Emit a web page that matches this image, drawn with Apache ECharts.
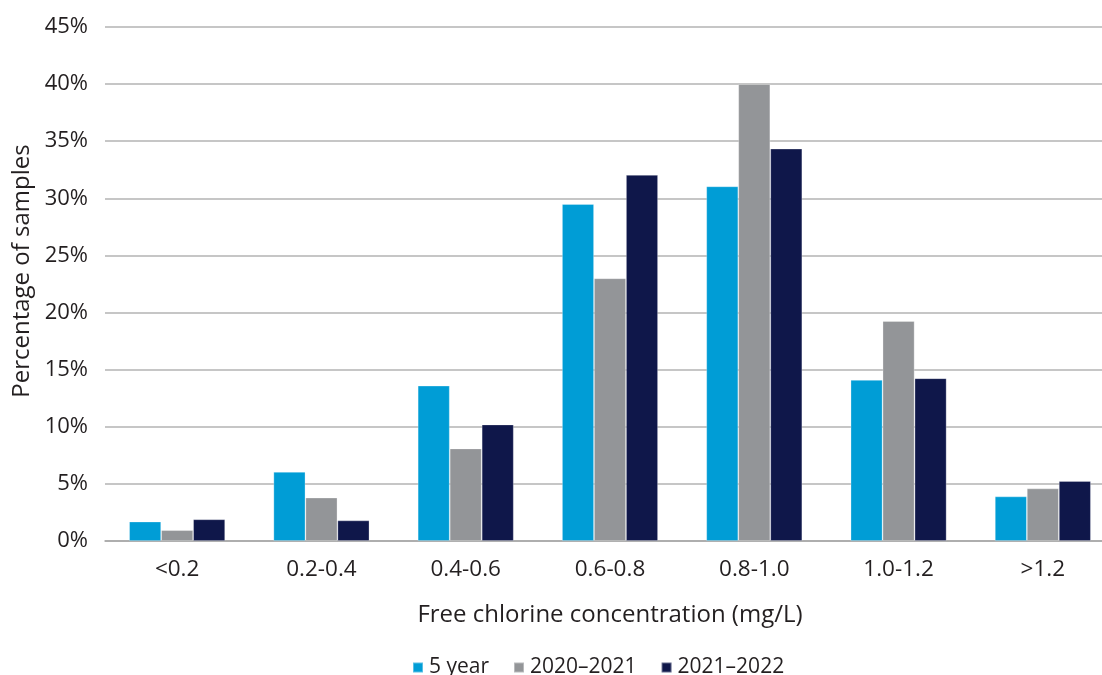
<!DOCTYPE html>
<html>
<head>
<meta charset="utf-8">
<script src="https://cdn.jsdelivr.net/npm/echarts@6/dist/echarts.min.js"></script>
<style>
  html, body { margin: 0; padding: 0; background: #fff; }
  #chart { width: 1102px; height: 675px; }
</style>
</head>
<body>
<div id="chart"></div>
<script>
// Free chlorine concentration bands (mg/L)
const categories = ['<0.2', '0.2-0.4', '0.4-0.6', '0.6-0.8', '0.8-1.0', '1.0-1.2', '>1.2'];

// Percentage of samples per band
const fiveYear  = [1.7, 6.05, 13.6, 29.5, 31.05, 14.1, 3.9];
const y2020_21  = [0.95, 3.8, 8.1, 23.0, 40.0, 19.25, 4.6];
const y2021_22  = [1.9, 1.8, 10.2, 32.05, 34.35, 14.25, 5.25];

const seriesNames = ['5 year', '2020\u20132021', '2021\u20132022'];
const colors = ['#009DD6', '#939598', '#0F174A'];

const FONT = '"Open Sans", Lato, sans-serif';
const TEXT = '#231F20';

const chart = echarts.init(document.getElementById('chart'), null, { renderer: 'canvas' });

const mkSeries = (name, data, color) => ({
  name,
  type: 'bar',
  data,
  barWidth: 32,
  barGap: '0%',
  itemStyle: { color, borderColor: 'rgba(255,255,255,0.35)', borderWidth: 0.8 },
  animation: false
});

chart.setOption({
  animation: false,
  textStyle: { fontFamily: FONT, color: TEXT },
  grid: { left: 105, top: 27, width: 1010, height: 514, containLabel: false, outerBoundsMode: 'none' },
  legend: {
    data: seriesNames,
    left: 412,
    top: 657,
    padding: 0,
    itemWidth: 10,
    itemHeight: 10,
    itemGap: 24,
    icon: 'rect',
    textStyle: { fontFamily: FONT, fontSize: 21, color: TEXT, padding: [0, 0, 0, 1] }
  },
  xAxis: {
    type: 'category',
    data: categories,
    name: 'Free chlorine concentration (mg/L)',
    nameLocation: 'middle',
    nameGap: 62,
    nameTextStyle: { fontFamily: FONT, fontSize: 24, color: TEXT },
    axisTick: { show: false },
    axisLine: { lineStyle: { color: '#A6A6A6', width: 1.5 } },
    axisLabel: { fontFamily: FONT, fontSize: 22.5, color: TEXT, margin: 17 }
  },
  yAxis: {
    type: 'value',
    min: 0,
    max: 45,
    interval: 5,
    name: 'Percentage of samples',
    nameLocation: 'middle',
    nameGap: 70,
    nameTextStyle: { fontFamily: FONT, fontSize: 24, color: TEXT, padding: [0, 0, 0, 26] },
    axisLine: { show: false },
    axisTick: { show: false },
    splitLine: { lineStyle: { color: '#B3B3B3', width: 1.5 } },
    axisLabel: {
      fontFamily: FONT, fontSize: 22, color: TEXT, margin: 17,
      formatter: v => v + '%'
    }
  },
  series: [
    mkSeries(seriesNames[0], fiveYear, colors[0]),
    mkSeries(seriesNames[1], y2020_21, colors[1]),
    mkSeries(seriesNames[2], y2021_22, colors[2])
  ]
});
</script>
</body>
</html>
